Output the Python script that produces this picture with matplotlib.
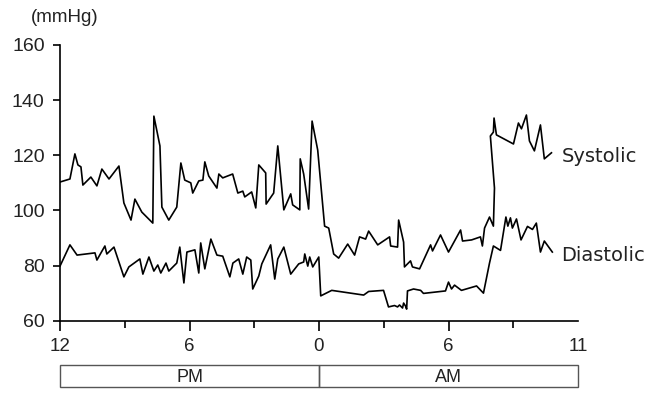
import matplotlib
matplotlib.use("Agg")
import matplotlib.pyplot as plt
from matplotlib.patches import Rectangle


# hours since 12 PM, blood pressure in mmHg
SYS_T = [0.00, 0.46, 0.69, 0.83, 0.97, 1.06, 1.43, 1.71, 1.94, 2.27, 2.73, 2.96,
         3.29, 3.47, 3.79, 4.30, 4.35, 4.63, 4.72, 5.04, 5.41, 5.60, 5.78, 6.06,
         6.15, 6.43, 6.62, 6.71, 6.89, 7.27, 7.36, 7.54, 8.00, 8.24, 8.47, 8.56,
         8.88, 9.07, 9.21, 9.53, 9.55, 9.90, 10.09, 10.37, 10.69, 10.78, 11.11,
         11.13, 11.29, 11.52, 11.68, 11.94, 12.26, 12.45, 12.68, 12.91, 13.33,
         13.65, 13.88, 14.16, 14.30, 14.72, 15.27, 15.32, 15.64, 15.69, 15.92,
         15.96, 16.24, 16.33, 16.66, 17.17, 17.26, 17.63, 18.00, 18.56, 18.65,
         19.07, 19.48, 19.57, 19.67, 19.90, 20.08, 20.13, 19.94, 20.08, 20.11,
         20.22, 21.01, 21.24, 21.38, 21.61, 21.75, 21.98, 22.26, 22.44, 22.77]
SYS_V = [110.3, 111.4, 120.5, 116.5, 115.8, 109.2, 112.1, 108.9, 115.0, 111.4,
         116.1, 102.7, 96.5, 104.1, 99.4, 95.4, 134.2, 123.4, 101.2, 96.5, 101.2,
         117.2, 111.0, 110.0, 106.3, 110.7, 111.0, 117.6, 112.5, 108.1, 113.2,
         111.8, 113.2, 106.3, 107.0, 104.9, 106.7, 100.9, 116.5, 113.6, 102.3,
         106.3, 123.4, 100.2, 106.0, 102.0, 100.2, 118.7, 113.2, 100.5, 132.4,
         121.9, 94.3, 93.6, 84.2, 82.7, 87.8, 83.8, 90.4, 89.6, 92.5, 87.5, 90.4,
         87.1, 86.7, 96.5, 88.5, 79.5, 81.7, 79.5, 78.8, 87.5, 85.3, 91.1, 84.9,
         92.9, 88.9, 89.3, 90.4, 87.1, 93.6, 97.6, 94.3, 108.1, 127.0, 128.4,
         133.5, 127.4, 124.1, 131.7, 129.6, 134.6, 125.2, 121.6, 131.0, 118.7,
         120.9]

DIA_T = [0.00, 0.46, 0.79, 1.62, 1.71, 2.08, 2.17, 2.50, 2.96, 3.19, 3.70, 3.84,
         4.12, 4.35, 4.53, 4.67, 4.91, 5.04, 5.41, 5.55, 5.74, 5.88, 6.25, 6.43,
         6.52, 6.71, 6.99, 7.27, 7.54, 7.87, 8.01, 8.28, 8.47, 8.65, 8.84, 8.93,
         9.21, 9.35, 9.76, 9.95, 10.09, 10.37, 10.69, 11.06, 11.29, 11.34, 11.48,
         11.57, 11.71, 11.99, 12.08, 12.59, 14.07, 14.30, 14.99, 15.22, 15.50,
         15.64, 15.73, 15.87, 15.92, 16.01, 16.06, 16.10, 16.38, 16.71, 16.84,
         17.86, 18.00, 18.14, 18.28, 18.60, 19.30, 19.62, 19.90, 20.08, 20.41,
         20.66, 20.75, 20.87, 20.96, 21.15, 21.36, 21.66, 21.89, 22.07, 22.26,
         22.44, 22.81]
DIA_V = [79.8, 87.5, 83.8, 84.6, 82.0, 87.1, 84.2, 86.7, 75.9, 79.5, 82.4, 76.9,
         83.1, 78.0, 80.2, 77.3, 80.9, 78.0, 80.9, 86.7, 73.7, 84.9, 85.7, 77.3,
         88.2, 78.8, 89.6, 83.8, 83.4, 75.9, 80.9, 82.4, 76.9, 83.1, 82.0, 71.5,
         76.2, 80.6, 87.5, 75.1, 82.4, 86.7, 76.9, 80.6, 81.3, 84.2, 79.8, 83.1,
         79.5, 83.1, 69.0, 71.0, 69.3, 70.6, 71.0, 65.0, 65.5, 65.0, 65.7, 64.6,
         66.4, 65.3, 64.2, 70.8, 71.5, 71.0, 69.9, 70.8, 74.0, 71.5, 72.9, 71.0,
         72.6, 70.0, 80.9, 87.1, 85.5, 97.6, 94.3, 97.3, 93.6, 96.9, 89.3, 94.2,
         93.1, 95.4, 84.9, 88.9, 84.9]

X_TICKS = [0, 6, 12, 18, 24]
X_LABELS = ["12", "6", "0", "6", "11"]
X_MINOR = [3, 9, 15, 21]
Y_TICKS = [60, 80, 100, 120, 140, 160]
PERIODS = [("PM", 0, 12), ("AM", 12, 24)]

TXT = "#222222"

fig = plt.figure(figsize=(6.71, 3.98), dpi=100)
ax = fig.add_axes([60 / 671, 1 - 320.7 / 398, 518 / 671, 275.7 / 398])

ax.plot(SYS_T, SYS_V, color="black", lw=1.2)
ax.plot(DIA_T, DIA_V, color="black", lw=1.2)

ax.set_xlim(0, 24)
ax.set_ylim(60, 160)
for s in ["top", "right"]:
    ax.spines[s].set_visible(False)
for s in ["left", "bottom"]:
    ax.spines[s].set_linewidth(1.2)

ax.set_xticks(X_TICKS)
ax.set_xticklabels(X_LABELS, fontfamily="Liberation Sans", fontsize=13.5, color=TXT)
ax.set_xticks(X_MINOR, minor=True)
ax.tick_params(axis="x", which="major", length=7.5, width=1.2, pad=5)
ax.tick_params(axis="x", which="minor", length=4.8, width=1.2)
ax.xaxis.get_major_ticks()[-1].tick1line.set_visible(False)

ax.set_yticks(Y_TICKS)
ax.set_yticklabels([str(v) for v in Y_TICKS], fontfamily="Liberation Sans",
                   fontsize=14, color=TXT)
ax.tick_params(axis="y", length=5, width=1.2, pad=6)

ax.text(23.23, 119.4, "Systolic", fontsize=14, color=TXT, va="center",
        ha="left", clip_on=False)
ax.text(23.23, 83.5, "Diastolic", fontsize=14, color=TXT, va="center",
        ha="left", clip_on=False)
fig.text(31 / 671, 1 - 17 / 398, "(mmHg)", fontfamily="Liberation Sans",
         fontsize=13.5, color=TXT, va="center", ha="left")

# PM / AM band under the axis
bx = fig.add_axes([60 / 671, 1 - 387.3 / 398, 518 / 671, 22.3 / 398])
bx.set_xlim(0, 24)
bx.set_ylim(0, 1)
bx.axis("off")
for name, a, b in PERIODS:
    bx.add_patch(Rectangle((a, 0), b - a, 1, fill=False, edgecolor="#555555",
                           lw=1.0, clip_on=False))
    bx.text((a + b) / 2, 0.45, name, fontfamily="Liberation Sans", fontsize=13,
            color=TXT, ha="center", va="center")

fig.savefig("out.png", dpi=100)
